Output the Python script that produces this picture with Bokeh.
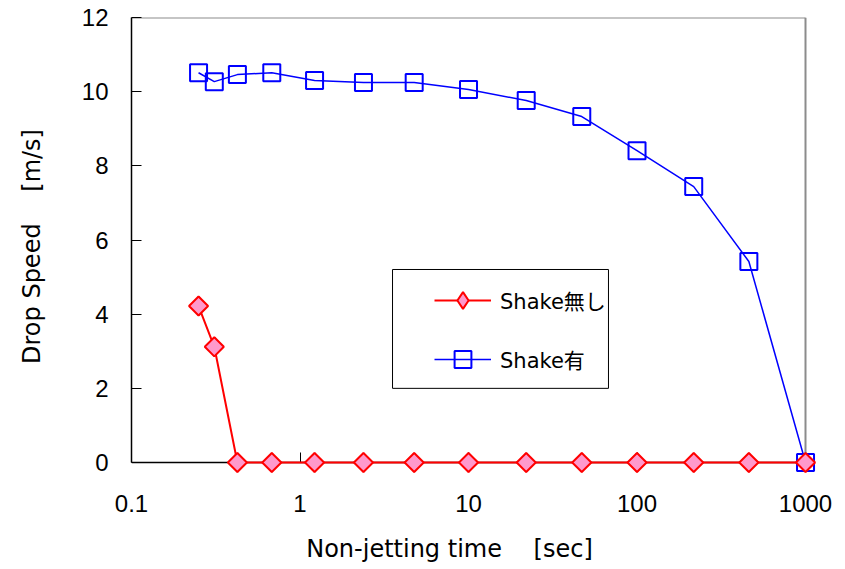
from bokeh.plotting import figure
from bokeh.models import (Range1d, FixedTicker, LinearAxis, LogAxis, Legend,
                          LegendItem, BoxAnnotation)
from bokeh.embed import file_html
from bokeh.resources import INLINE
import math

# ---- data ----
time_sec = [0.25, 0.31, 0.425, 0.68, 1.22, 2.38, 4.76, 10, 22, 47, 100, 217, 461, 1000]
speed_no_shake = [4.22, 3.12, 0, 0, 0, 0, 0, 0, 0, 0, 0, 0, 0, 0]
speed_shake = [10.51, 10.27, 10.46, 10.51, 10.30, 10.25, 10.25, 10.06, 9.76, 9.33,
               8.41, 7.44, 5.42, 0.0]
series_names = ["Shake無し", "Shake有"]
x_ticks = [0.1, 1, 10, 100, 1000]
x_tick_labels = ["0.1", "1", "10", "100", "1000"]
y_ticks = [0, 2, 4, 6, 8, 10, 12]
# trailing ideographic spaces shift the centred title a little to the left, as in the reference
x_title = "Non-jetting time\u3000 [sec]\u3000\u3000"
y_title = "Drop Speed\u3000 [m/s]"

# ---- styles / layout ----
X_MIN, X_MAX = 0.1, 1000
Y_MIN, Y_MAX = 0, 12
X_PAD_END = 1146      # room so the markers at the last point are not clipped
Y_PAD_START = -0.35   # room so the markers at y = 0 are not clipped
FRAME_GRAY = "#8c8c8c"
TICK_FONT = "Liberation Sans"
TEXT_FONT = "DejaVu Sans, Noto Sans CJK JP"
RED = "#ff0000"
PINK = "#ff99cc"
BLUE = "#0000ff"

p = figure(width=845, height=569, x_axis_type="log",
           x_range=Range1d(X_MIN, X_PAD_END), y_range=Range1d(Y_PAD_START, Y_MAX),
           output_backend="svg", toolbar_location=None,
           min_border_left=131, min_border_right=30, min_border_top=17,
           min_border_bottom=94)
p.outline_line_color = None
p.grid.visible = False

# bottom axis: tick labels and title (sits at the frame bottom)
xa = p.xaxis[0]
xa.ticker = FixedTicker(ticks=x_ticks)
xa.major_label_overrides = {float(t): s for t, s in zip(x_ticks, x_tick_labels)}
xa.axis_line_color = None
xa.major_tick_line_color = None
xa.minor_tick_line_color = None
xa.major_label_standoff = 13
xa.major_label_text_font = TICK_FONT
xa.major_label_text_font_size = "24px"
xa.major_label_text_color = "black"
xa.axis_label = x_title
xa.axis_label_standoff = 20
xa.axis_label_text_font = TEXT_FONT
xa.axis_label_text_font_size = "24px"
xa.axis_label_text_font_style = "normal"
xa.axis_label_text_color = "black"

# black axis line at y = 0 with inward ticks
zero_ax = LogAxis(fixed_location=Y_MIN, bounds=(X_MIN, X_MAX), ticker=FixedTicker(ticks=x_ticks),
                  axis_line_color="black", axis_line_width=1.5,
                  major_tick_in=0, major_tick_out=10, major_tick_line_color="black",
                  minor_tick_line_color=None, major_label_text_color=None)
p.add_layout(zero_ax, "above")

ya = p.yaxis[0]
ya.bounds = (Y_MIN, Y_MAX)
ya.ticker = FixedTicker(ticks=y_ticks)
ya.axis_line_color = "black"
ya.axis_line_width = 1.5
ya.major_tick_in = 10
ya.major_tick_out = 0
ya.major_tick_line_color = "black"
ya.minor_tick_line_color = None
ya.major_label_standoff = 23
ya.major_label_text_font = TICK_FONT
ya.major_label_text_font_size = "24px"
ya.major_label_text_color = "black"
ya.axis_label = y_title
ya.axis_label_standoff = 33
ya.axis_label_text_font = TEXT_FONT
ya.axis_label_text_font_size = "24px"
ya.axis_label_text_font_style = "normal"
ya.axis_label_text_color = "black"

# gray top and right frame lines
top_ax = LogAxis(fixed_location=Y_MAX, bounds=(X_MIN, X_MAX), ticker=FixedTicker(ticks=[]),
                 axis_line_color=FRAME_GRAY, axis_line_width=2,
                 major_tick_line_color=None, minor_tick_line_color=None)
p.add_layout(top_ax, "above")
right_ax = LinearAxis(fixed_location=X_MAX, bounds=(Y_MIN, Y_MAX), ticker=FixedTicker(ticks=[]),
                      axis_line_color=FRAME_GRAY, axis_line_width=2,
                      major_tick_line_color=None, minor_tick_line_color=None)
p.add_layout(right_ax, "right")

# series
# diamond key for the legend, hidden under the rotated squares in the plot
red_key = p.scatter(time_sec, speed_no_shake, marker="diamond", size=18.5, fill_color=PINK,
                    line_color=RED, line_width=2)
blue_line = p.line(time_sec, speed_shake, line_color=BLUE, line_width=1.5, level="overlay")
blue_pts = p.scatter(time_sec, speed_shake, marker="square", size=17, fill_color=None,
                     line_color=BLUE, line_width=2, level="overlay")
red_line = p.line(time_sec, speed_no_shake, line_color=RED, line_width=2, level="overlay")
red_pts = p.scatter(time_sec, speed_no_shake, marker="square", angle=math.pi / 4, size=13.5,
                    fill_color=PINK, line_color=RED, line_width=2, level="overlay")

# legend frame (white box with black border)
box = BoxAnnotation(left=3.54, right=67.7, bottom=2.0, top=5.205,
                    fill_color="white", fill_alpha=1.0, line_color="black",
                    line_alpha=1.0, line_width=1)
p.add_layout(box)

legend = Legend(items=[LegendItem(label=series_names[0], renderers=[red_line, red_key]),
                       LegendItem(label=series_names[1], renderers=[blue_line, blue_pts])],
                location=(303, 95), orientation="vertical", padding=10, margin=0,
                spacing=17, glyph_width=57, glyph_height=42, label_standoff=9,
                label_text_font=TEXT_FONT, label_text_font_size="21px",
                label_text_color="black",
                border_line_color=None, background_fill_alpha=0)
p.add_layout(legend)

open("out.html", "w").write(file_html(p, INLINE))
